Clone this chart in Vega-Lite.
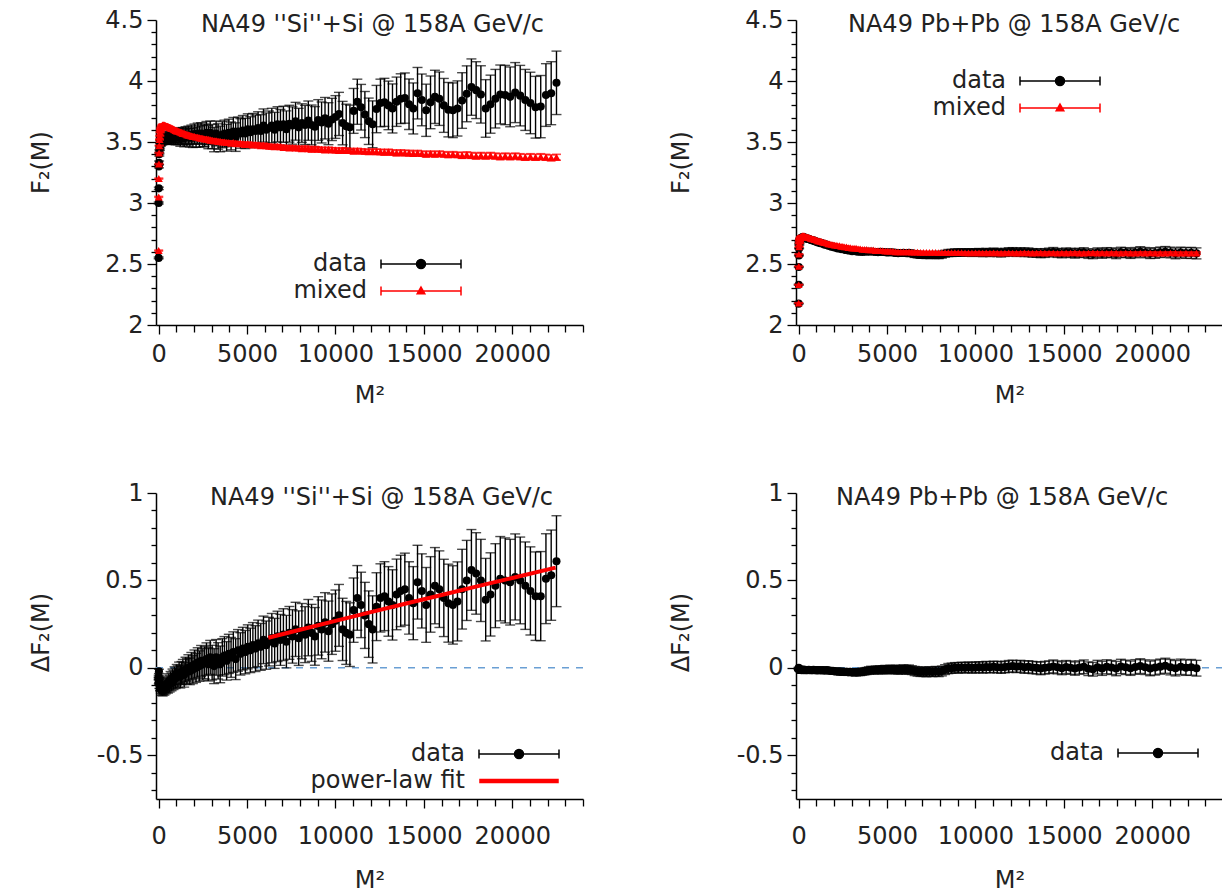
{
"$schema": "https://vega.github.io/schema/vega-lite/v6.json",
"padding": {"left": 28, "top": 8, "right": 0, "bottom": 0},
"config": {
  "view": {"stroke": null},
  "font": "DejaVu Sans",
  "title": {"font": "DejaVu Sans", "fontSize": 24, "fontWeight": "normal", "color": "#222"},
  "axis": {"labelFont": "DejaVu Sans", "labelFontSize": 24, "labelColor": "#222", "titleFont": "DejaVu Sans", "titleFontSize": 24, "titleFontWeight": "normal", "titleColor": "#222", "domainColor": "black", "domainWidth": 1.5, "tickColor": "black", "tickWidth": 1.3, "grid": false, "labelFlush": false, "labelOverlap": false, "labelBound": false},
  "legend": {"title": null, "orient": "none", "direction": "vertical", "padding": 0, "rowPadding": 3, "symbolSize": 400, "symbolStrokeWidth": 1.5, "labelFont": "DejaVu Sans", "labelFontSize": 24, "labelColor": "#222", "labelAlign": "right", "labelOffset": -66, "labelLimit": 400}
},
"datasets": {
"si": [
{"M2":1,"d":2.55,"m":2.61,"dd":-0.06,"e":0.007,"me":0.004},
{"M2":4,"d":3.0,"m":3.05,"dd":-0.05,"e":0.008,"me":0.004},
{"M2":9,"d":3.12,"m":3.2,"dd":-0.08,"e":0.01,"me":0.004},
{"M2":16,"d":3.3,"m":3.32,"dd":-0.02,"e":0.012,"me":0.004},
{"M2":25,"d":3.33,"m":3.41,"dd":-0.08,"e":0.014,"me":0.004},
{"M2":36,"d":3.4,"m":3.47,"dd":-0.07,"e":0.015,"me":0.004},
{"M2":49,"d":3.42,"m":3.52,"dd":-0.1,"e":0.017,"me":0.004},
{"M2":64,"d":3.45,"m":3.55,"dd":-0.1,"e":0.019,"me":0.004},
{"M2":81,"d":3.47,"m":3.58,"dd":-0.11,"e":0.02,"me":0.004},
{"M2":100,"d":3.49,"m":3.6,"dd":-0.11,"e":0.022,"me":0.004},
{"M2":121,"d":3.49,"m":3.61,"dd":-0.12,"e":0.024,"me":0.006},
{"M2":144,"d":3.51,"m":3.62,"dd":-0.11,"e":0.025,"me":0.006},
{"M2":169,"d":3.5,"m":3.63,"dd":-0.13,"e":0.027,"me":0.006},
{"M2":196,"d":3.515,"m":3.635,"dd":-0.12,"e":0.029,"me":0.006},
{"M2":225,"d":3.51,"m":3.64,"dd":-0.13,"e":0.031,"me":0.006},
{"M2":256,"d":3.52,"m":3.64,"dd":-0.12,"e":0.032,"me":0.006},
{"M2":289,"d":3.53,"m":3.64,"dd":-0.11,"e":0.034,"me":0.006},
{"M2":324,"d":3.52,"m":3.64,"dd":-0.12,"e":0.036,"me":0.006},
{"M2":361,"d":3.535,"m":3.635,"dd":-0.1,"e":0.037,"me":0.006},
{"M2":400,"d":3.525,"m":3.635,"dd":-0.11,"e":0.039,"me":0.006},
{"M2":441,"d":3.53,"m":3.63,"dd":-0.1,"e":0.041,"me":0.006},
{"M2":484,"d":3.54,"m":3.63,"dd":-0.09,"e":0.042,"me":0.006},
{"M2":529,"d":3.525,"m":3.625,"dd":-0.1,"e":0.044,"me":0.006},
{"M2":576,"d":3.54,"m":3.62,"dd":-0.08,"e":0.046,"me":0.006},
{"M2":625,"d":3.53,"m":3.62,"dd":-0.09,"e":0.048,"me":0.006},
{"M2":676,"d":3.545,"m":3.615,"dd":-0.07,"e":0.049,"me":0.006},
{"M2":729,"d":3.53,"m":3.61,"dd":-0.08,"e":0.051,"me":0.006},
{"M2":784,"d":3.55,"m":3.61,"dd":-0.06,"e":0.053,"me":0.006},
{"M2":841,"d":3.535,"m":3.605,"dd":-0.07,"e":0.054,"me":0.006},
{"M2":900,"d":3.55,"m":3.6,"dd":-0.05,"e":0.056,"me":0.006},
{"M2":961,"d":3.535,"m":3.595,"dd":-0.06,"e":0.058,"me":0.009},
{"M2":1024,"d":3.55,"m":3.59,"dd":-0.04,"e":0.059,"me":0.009},
{"M2":1089,"d":3.54,"m":3.59,"dd":-0.05,"e":0.061,"me":0.009},
{"M2":1156,"d":3.555,"m":3.585,"dd":-0.03,"e":0.063,"me":0.009},
{"M2":1225,"d":3.53,"m":3.58,"dd":-0.05,"e":0.065,"me":0.009},
{"M2":1296,"d":3.545,"m":3.575,"dd":-0.03,"e":0.066,"me":0.009},
{"M2":1369,"d":3.55,"m":3.57,"dd":-0.02,"e":0.068,"me":0.009},
{"M2":1444,"d":3.53,"m":3.57,"dd":-0.04,"e":0.07,"me":0.009},
{"M2":1521,"d":3.555,"m":3.565,"dd":-0.01,"e":0.071,"me":0.009},
{"M2":1600,"d":3.54,"m":3.56,"dd":-0.02,"e":0.073,"me":0.009},
{"M2":1681,"d":3.555,"m":3.555,"dd":0.0,"e":0.075,"me":0.009},
{"M2":1764,"d":3.535,"m":3.555,"dd":-0.02,"e":0.076,"me":0.009},
{"M2":1849,"d":3.56,"m":3.55,"dd":0.01,"e":0.078,"me":0.009},
{"M2":1936,"d":3.535,"m":3.545,"dd":-0.01,"e":0.08,"me":0.009},
{"M2":2025,"d":3.565,"m":3.545,"dd":0.02,"e":0.082,"me":0.009},
{"M2":2116,"d":3.54,"m":3.54,"dd":0.0,"e":0.083,"me":0.009},
{"M2":2209,"d":3.57,"m":3.54,"dd":0.03,"e":0.085,"me":0.009},
{"M2":2304,"d":3.545,"m":3.535,"dd":0.01,"e":0.087,"me":0.009},
{"M2":2401,"d":3.57,"m":3.53,"dd":0.04,"e":0.088,"me":0.009},
{"M2":2500,"d":3.55,"m":3.53,"dd":0.02,"e":0.09,"me":0.009},
{"M2":2601,"d":3.555,"m":3.525,"dd":0.03,"e":0.092,"me":0.012},
{"M2":2704,"d":3.575,"m":3.525,"dd":0.05,"e":0.093,"me":0.012},
{"M2":2809,"d":3.54,"m":3.52,"dd":0.02,"e":0.095,"me":0.012},
{"M2":2916,"d":3.575,"m":3.515,"dd":0.06,"e":0.097,"me":0.012},
{"M2":3025,"d":3.545,"m":3.515,"dd":0.03,"e":0.099,"me":0.012},
{"M2":3136,"d":3.52,"m":3.51,"dd":0.01,"e":0.1,"me":0.012},
{"M2":3249,"d":3.57,"m":3.51,"dd":0.06,"e":0.102,"me":0.012},
{"M2":3364,"d":3.545,"m":3.505,"dd":0.04,"e":0.104,"me":0.012},
{"M2":3481,"d":3.525,"m":3.505,"dd":0.02,"e":0.105,"me":0.012},
{"M2":3600,"d":3.56,"m":3.5,"dd":0.06,"e":0.107,"me":0.012},
{"M2":3721,"d":3.57,"m":3.5,"dd":0.07,"e":0.109,"me":0.012},
{"M2":3844,"d":3.535,"m":3.495,"dd":0.04,"e":0.11,"me":0.012},
{"M2":3969,"d":3.575,"m":3.495,"dd":0.08,"e":0.112,"me":0.012},
{"M2":4096,"d":3.55,"m":3.49,"dd":0.06,"e":0.114,"me":0.012},
{"M2":4225,"d":3.585,"m":3.495,"dd":0.09,"e":0.116,"me":0.012},
{"M2":4356,"d":3.54,"m":3.49,"dd":0.05,"e":0.117,"me":0.012},
{"M2":4489,"d":3.585,"m":3.485,"dd":0.1,"e":0.119,"me":0.012},
{"M2":4624,"d":3.57,"m":3.49,"dd":0.08,"e":0.121,"me":0.012},
{"M2":4761,"d":3.595,"m":3.485,"dd":0.11,"e":0.122,"me":0.012},
{"M2":4900,"d":3.57,"m":3.48,"dd":0.09,"e":0.124,"me":0.012},
{"M2":5041,"d":3.605,"m":3.485,"dd":0.12,"e":0.126,"me":0.015},
{"M2":5184,"d":3.58,"m":3.48,"dd":0.1,"e":0.127,"me":0.015},
{"M2":5329,"d":3.605,"m":3.475,"dd":0.13,"e":0.129,"me":0.015},
{"M2":5476,"d":3.59,"m":3.48,"dd":0.11,"e":0.131,"me":0.015},
{"M2":5625,"d":3.615,"m":3.475,"dd":0.14,"e":0.133,"me":0.015},
{"M2":5776,"d":3.59,"m":3.47,"dd":0.12,"e":0.134,"me":0.015},
{"M2":5929,"d":3.635,"m":3.475,"dd":0.16,"e":0.136,"me":0.015},
{"M2":6084,"d":3.6,"m":3.47,"dd":0.13,"e":0.138,"me":0.015},
{"M2":6241,"d":3.615,"m":3.465,"dd":0.15,"e":0.139,"me":0.015},
{"M2":6400,"d":3.635,"m":3.465,"dd":0.17,"e":0.141,"me":0.015},
{"M2":6561,"d":3.6,"m":3.46,"dd":0.14,"e":0.143,"me":0.015},
{"M2":6724,"d":3.645,"m":3.465,"dd":0.18,"e":0.144,"me":0.015},
{"M2":6889,"d":3.62,"m":3.46,"dd":0.16,"e":0.146,"me":0.015},
{"M2":7056,"d":3.645,"m":3.455,"dd":0.19,"e":0.148,"me":0.015},
{"M2":7225,"d":3.605,"m":3.455,"dd":0.15,"e":0.15,"me":0.015},
{"M2":7396,"d":3.65,"m":3.45,"dd":0.2,"e":0.151,"me":0.015},
{"M2":7569,"d":3.635,"m":3.455,"dd":0.18,"e":0.153,"me":0.015},
{"M2":7744,"d":3.67,"m":3.45,"dd":0.22,"e":0.155,"me":0.015},
{"M2":7921,"d":3.62,"m":3.45,"dd":0.17,"e":0.156,"me":0.015},
{"M2":8100,"d":3.655,"m":3.445,"dd":0.21,"e":0.158,"me":0.015},
{"M2":8281,"d":3.64,"m":3.45,"dd":0.19,"e":0.16,"me":0.018},
{"M2":8464,"d":3.675,"m":3.445,"dd":0.23,"e":0.161,"me":0.018},
{"M2":8649,"d":3.64,"m":3.44,"dd":0.2,"e":0.163,"me":0.018},
{"M2":8836,"d":3.625,"m":3.445,"dd":0.18,"e":0.165,"me":0.018},
{"M2":9025,"d":3.68,"m":3.44,"dd":0.24,"e":0.167,"me":0.018},
{"M2":9216,"d":3.66,"m":3.44,"dd":0.22,"e":0.168,"me":0.018},
{"M2":9409,"d":3.695,"m":3.435,"dd":0.26,"e":0.17,"me":0.018},
{"M2":9604,"d":3.65,"m":3.44,"dd":0.21,"e":0.172,"me":0.018},
{"M2":9801,"d":3.685,"m":3.435,"dd":0.25,"e":0.173,"me":0.018},
{"M2":10000,"d":3.705,"m":3.435,"dd":0.27,"e":0.175,"me":0.018},
{"M2":10201,"d":3.73,"m":3.43,"dd":0.3,"e":0.177,"me":0.018},
{"M2":10404,"d":3.655,"m":3.435,"dd":0.22,"e":0.178,"me":0.018},
{"M2":10609,"d":3.63,"m":3.43,"dd":0.2,"e":0.18,"me":0.018},
{"M2":10816,"d":3.62,"m":3.43,"dd":0.19,"e":0.182,"me":0.018},
{"M2":11025,"d":3.755,"m":3.425,"dd":0.33,"e":0.184,"me":0.018},
{"M2":11236,"d":3.83,"m":3.43,"dd":0.4,"e":0.185,"me":0.018},
{"M2":11449,"d":3.785,"m":3.425,"dd":0.36,"e":0.187,"me":0.018},
{"M2":11664,"d":3.725,"m":3.425,"dd":0.3,"e":0.189,"me":0.018},
{"M2":11881,"d":3.67,"m":3.42,"dd":0.25,"e":0.19,"me":0.018},
{"M2":12100,"d":3.645,"m":3.425,"dd":0.22,"e":0.192,"me":0.018},
{"M2":12321,"d":3.77,"m":3.42,"dd":0.35,"e":0.194,"me":0.021},
{"M2":12544,"d":3.82,"m":3.42,"dd":0.4,"e":0.195,"me":0.021},
{"M2":12769,"d":3.825,"m":3.415,"dd":0.41,"e":0.197,"me":0.021},
{"M2":12996,"d":3.8,"m":3.42,"dd":0.38,"e":0.199,"me":0.021},
{"M2":13225,"d":3.775,"m":3.415,"dd":0.36,"e":0.201,"me":0.021},
{"M2":13456,"d":3.83,"m":3.41,"dd":0.42,"e":0.202,"me":0.021},
{"M2":13689,"d":3.855,"m":3.415,"dd":0.44,"e":0.204,"me":0.021},
{"M2":13924,"d":3.86,"m":3.41,"dd":0.45,"e":0.206,"me":0.021},
{"M2":14161,"d":3.81,"m":3.41,"dd":0.4,"e":0.207,"me":0.021},
{"M2":14400,"d":3.775,"m":3.405,"dd":0.37,"e":0.209,"me":0.021},
{"M2":14641,"d":3.9,"m":3.41,"dd":0.49,"e":0.211,"me":0.021},
{"M2":14884,"d":3.845,"m":3.405,"dd":0.44,"e":0.212,"me":0.021},
{"M2":15129,"d":3.76,"m":3.4,"dd":0.36,"e":0.214,"me":0.021},
{"M2":15376,"d":3.825,"m":3.405,"dd":0.42,"e":0.216,"me":0.021},
{"M2":15625,"d":3.87,"m":3.4,"dd":0.47,"e":0.218,"me":0.021},
{"M2":15876,"d":3.855,"m":3.405,"dd":0.45,"e":0.219,"me":0.021},
{"M2":16129,"d":3.8,"m":3.4,"dd":0.4,"e":0.221,"me":0.021},
{"M2":16384,"d":3.765,"m":3.395,"dd":0.37,"e":0.223,"me":0.021},
{"M2":16641,"d":3.76,"m":3.4,"dd":0.36,"e":0.224,"me":0.021},
{"M2":16900,"d":3.775,"m":3.395,"dd":0.38,"e":0.226,"me":0.021},
{"M2":17161,"d":3.84,"m":3.39,"dd":0.45,"e":0.228,"me":0.024},
{"M2":17424,"d":3.895,"m":3.395,"dd":0.5,"e":0.229,"me":0.024},
{"M2":17689,"d":3.95,"m":3.39,"dd":0.56,"e":0.231,"me":0.024},
{"M2":17956,"d":3.925,"m":3.385,"dd":0.54,"e":0.233,"me":0.024},
{"M2":18225,"d":3.89,"m":3.39,"dd":0.5,"e":0.235,"me":0.024},
{"M2":18496,"d":3.775,"m":3.385,"dd":0.39,"e":0.236,"me":0.024},
{"M2":18769,"d":3.81,"m":3.39,"dd":0.42,"e":0.238,"me":0.024},
{"M2":19044,"d":3.855,"m":3.385,"dd":0.47,"e":0.24,"me":0.024},
{"M2":19321,"d":3.89,"m":3.38,"dd":0.51,"e":0.241,"me":0.024},
{"M2":19600,"d":3.885,"m":3.385,"dd":0.5,"e":0.243,"me":0.024},
{"M2":19881,"d":3.87,"m":3.38,"dd":0.49,"e":0.245,"me":0.024},
{"M2":20164,"d":3.905,"m":3.385,"dd":0.52,"e":0.246,"me":0.024},
{"M2":20449,"d":3.88,"m":3.38,"dd":0.5,"e":0.248,"me":0.024},
{"M2":20736,"d":3.845,"m":3.375,"dd":0.47,"e":0.25,"me":0.024},
{"M2":21025,"d":3.82,"m":3.38,"dd":0.44,"e":0.252,"me":0.024},
{"M2":21316,"d":3.785,"m":3.375,"dd":0.41,"e":0.253,"me":0.024},
{"M2":21609,"d":3.79,"m":3.38,"dd":0.41,"e":0.255,"me":0.024},
{"M2":21904,"d":3.885,"m":3.375,"dd":0.51,"e":0.257,"me":0.024},
{"M2":22201,"d":3.9,"m":3.37,"dd":0.53,"e":0.258,"me":0.024},
{"M2":22500,"d":3.985,"m":3.375,"dd":0.61,"e":0.26,"me":0.024}
],
"pb": [
{"M2":1,"d":2.175,"m":2.18,"dd":-0.005,"e":0.003,"me":0.003},
{"M2":4,"d":2.33,"m":2.33,"dd":0.0,"e":0.004,"me":0.003},
{"M2":9,"d":2.475,"m":2.48,"dd":-0.005,"e":0.004,"me":0.003},
{"M2":16,"d":2.57,"m":2.58,"dd":-0.01,"e":0.004,"me":0.003},
{"M2":25,"d":2.628,"m":2.64,"dd":-0.012,"e":0.004,"me":0.003},
{"M2":36,"d":2.66,"m":2.67,"dd":-0.01,"e":0.005,"me":0.003},
{"M2":49,"d":2.678,"m":2.69,"dd":-0.012,"e":0.005,"me":0.003},
{"M2":64,"d":2.69,"m":2.7,"dd":-0.01,"e":0.005,"me":0.003},
{"M2":81,"d":2.698,"m":2.71,"dd":-0.012,"e":0.006,"me":0.003},
{"M2":100,"d":2.704,"m":2.715,"dd":-0.011,"e":0.006,"me":0.003},
{"M2":121,"d":2.708,"m":2.72,"dd":-0.012,"e":0.006,"me":0.003},
{"M2":144,"d":2.715,"m":2.725,"dd":-0.01,"e":0.006,"me":0.003},
{"M2":169,"d":2.712,"m":2.725,"dd":-0.013,"e":0.007,"me":0.003},
{"M2":196,"d":2.719,"m":2.73,"dd":-0.011,"e":0.007,"me":0.003},
{"M2":225,"d":2.718,"m":2.73,"dd":-0.012,"e":0.007,"me":0.003},
{"M2":256,"d":2.72,"m":2.73,"dd":-0.01,"e":0.007,"me":0.003},
{"M2":289,"d":2.717,"m":2.73,"dd":-0.013,"e":0.008,"me":0.003},
{"M2":324,"d":2.718,"m":2.73,"dd":-0.012,"e":0.008,"me":0.003},
{"M2":361,"d":2.714,"m":2.725,"dd":-0.011,"e":0.008,"me":0.003},
{"M2":400,"d":2.712,"m":2.725,"dd":-0.013,"e":0.009,"me":0.003},
{"M2":441,"d":2.708,"m":2.72,"dd":-0.012,"e":0.009,"me":0.003},
{"M2":484,"d":2.706,"m":2.72,"dd":-0.014,"e":0.009,"me":0.003},
{"M2":529,"d":2.708,"m":2.72,"dd":-0.012,"e":0.009,"me":0.003},
{"M2":576,"d":2.704,"m":2.715,"dd":-0.011,"e":0.01,"me":0.003},
{"M2":625,"d":2.702,"m":2.715,"dd":-0.013,"e":0.01,"me":0.003},
{"M2":676,"d":2.698,"m":2.71,"dd":-0.012,"e":0.01,"me":0.003},
{"M2":729,"d":2.696,"m":2.71,"dd":-0.014,"e":0.011,"me":0.003},
{"M2":784,"d":2.692,"m":2.705,"dd":-0.013,"e":0.011,"me":0.003},
{"M2":841,"d":2.694,"m":2.705,"dd":-0.011,"e":0.011,"me":0.003},
{"M2":900,"d":2.686,"m":2.7,"dd":-0.014,"e":0.011,"me":0.003},
{"M2":961,"d":2.688,"m":2.7,"dd":-0.012,"e":0.012,"me":0.003},
{"M2":1024,"d":2.68,"m":2.695,"dd":-0.015,"e":0.012,"me":0.003},
{"M2":1089,"d":2.677,"m":2.69,"dd":-0.013,"e":0.012,"me":0.003},
{"M2":1156,"d":2.678,"m":2.69,"dd":-0.012,"e":0.013,"me":0.003},
{"M2":1225,"d":2.67,"m":2.685,"dd":-0.015,"e":0.013,"me":0.003},
{"M2":1296,"d":2.671,"m":2.685,"dd":-0.014,"e":0.013,"me":0.003},
{"M2":1369,"d":2.668,"m":2.68,"dd":-0.012,"e":0.013,"me":0.003},
{"M2":1444,"d":2.659,"m":2.675,"dd":-0.016,"e":0.014,"me":0.003},
{"M2":1521,"d":2.661,"m":2.675,"dd":-0.014,"e":0.014,"me":0.003},
{"M2":1600,"d":2.657,"m":2.67,"dd":-0.013,"e":0.014,"me":0.003},
{"M2":1681,"d":2.649,"m":2.665,"dd":-0.016,"e":0.014,"me":0.003},
{"M2":1764,"d":2.65,"m":2.665,"dd":-0.015,"e":0.015,"me":0.003},
{"M2":1849,"d":2.642,"m":2.66,"dd":-0.018,"e":0.015,"me":0.003},
{"M2":1936,"d":2.643,"m":2.66,"dd":-0.017,"e":0.015,"me":0.003},
{"M2":2025,"d":2.635,"m":2.655,"dd":-0.02,"e":0.016,"me":0.003},
{"M2":2116,"d":2.636,"m":2.655,"dd":-0.019,"e":0.016,"me":0.003},
{"M2":2209,"d":2.628,"m":2.65,"dd":-0.022,"e":0.016,"me":0.003},
{"M2":2304,"d":2.63,"m":2.65,"dd":-0.02,"e":0.016,"me":0.003},
{"M2":2401,"d":2.622,"m":2.645,"dd":-0.023,"e":0.017,"me":0.003},
{"M2":2500,"d":2.624,"m":2.645,"dd":-0.021,"e":0.017,"me":0.003},
{"M2":2601,"d":2.616,"m":2.64,"dd":-0.024,"e":0.017,"me":0.006},
{"M2":2704,"d":2.618,"m":2.64,"dd":-0.022,"e":0.018,"me":0.006},
{"M2":2809,"d":2.61,"m":2.635,"dd":-0.025,"e":0.018,"me":0.006},
{"M2":2916,"d":2.612,"m":2.635,"dd":-0.023,"e":0.018,"me":0.006},
{"M2":3025,"d":2.604,"m":2.63,"dd":-0.026,"e":0.018,"me":0.006},
{"M2":3136,"d":2.606,"m":2.63,"dd":-0.024,"e":0.019,"me":0.006},
{"M2":3249,"d":2.603,"m":2.63,"dd":-0.027,"e":0.019,"me":0.006},
{"M2":3364,"d":2.6,"m":2.625,"dd":-0.025,"e":0.019,"me":0.006},
{"M2":3481,"d":2.601,"m":2.625,"dd":-0.024,"e":0.02,"me":0.006},
{"M2":3600,"d":2.598,"m":2.62,"dd":-0.022,"e":0.02,"me":0.006},
{"M2":3721,"d":2.6,"m":2.62,"dd":-0.02,"e":0.02,"me":0.006},
{"M2":3844,"d":2.602,"m":2.62,"dd":-0.018,"e":0.02,"me":0.006},
{"M2":3969,"d":2.6,"m":2.615,"dd":-0.015,"e":0.021,"me":0.006},
{"M2":4096,"d":2.603,"m":2.615,"dd":-0.012,"e":0.021,"me":0.006},
{"M2":4225,"d":2.601,"m":2.615,"dd":-0.014,"e":0.021,"me":0.006},
{"M2":4356,"d":2.599,"m":2.61,"dd":-0.011,"e":0.021,"me":0.006},
{"M2":4489,"d":2.597,"m":2.61,"dd":-0.013,"e":0.022,"me":0.006},
{"M2":4624,"d":2.6,"m":2.61,"dd":-0.01,"e":0.022,"me":0.006},
{"M2":4761,"d":2.598,"m":2.61,"dd":-0.012,"e":0.022,"me":0.006},
{"M2":4900,"d":2.596,"m":2.605,"dd":-0.009,"e":0.023,"me":0.006},
{"M2":5041,"d":2.594,"m":2.605,"dd":-0.011,"e":0.023,"me":0.006},
{"M2":5184,"d":2.597,"m":2.605,"dd":-0.008,"e":0.023,"me":0.006},
{"M2":5329,"d":2.595,"m":2.605,"dd":-0.01,"e":0.023,"me":0.006},
{"M2":5476,"d":2.591,"m":2.6,"dd":-0.009,"e":0.024,"me":0.006},
{"M2":5625,"d":2.588,"m":2.6,"dd":-0.012,"e":0.024,"me":0.006},
{"M2":5776,"d":2.59,"m":2.6,"dd":-0.01,"e":0.024,"me":0.006},
{"M2":5929,"d":2.592,"m":2.6,"dd":-0.008,"e":0.025,"me":0.006},
{"M2":6084,"d":2.589,"m":2.6,"dd":-0.011,"e":0.025,"me":0.006},
{"M2":6241,"d":2.591,"m":2.6,"dd":-0.009,"e":0.025,"me":0.006},
{"M2":6400,"d":2.585,"m":2.598,"dd":-0.013,"e":0.025,"me":0.006},
{"M2":6561,"d":2.58,"m":2.598,"dd":-0.018,"e":0.026,"me":0.006},
{"M2":6724,"d":2.577,"m":2.598,"dd":-0.021,"e":0.026,"me":0.006},
{"M2":6889,"d":2.573,"m":2.596,"dd":-0.023,"e":0.026,"me":0.006},
{"M2":7056,"d":2.574,"m":2.596,"dd":-0.022,"e":0.027,"me":0.006},
{"M2":7225,"d":2.572,"m":2.596,"dd":-0.024,"e":0.027,"me":0.006},
{"M2":7396,"d":2.574,"m":2.595,"dd":-0.021,"e":0.027,"me":0.006},
{"M2":7569,"d":2.572,"m":2.595,"dd":-0.023,"e":0.027,"me":0.006},
{"M2":7744,"d":2.575,"m":2.595,"dd":-0.02,"e":0.028,"me":0.006},
{"M2":7921,"d":2.572,"m":2.594,"dd":-0.022,"e":0.028,"me":0.006},
{"M2":8100,"d":2.576,"m":2.594,"dd":-0.018,"e":0.028,"me":0.006},
{"M2":8281,"d":2.584,"m":2.594,"dd":-0.01,"e":0.028,"me":0.006},
{"M2":8464,"d":2.59,"m":2.594,"dd":-0.004,"e":0.029,"me":0.006},
{"M2":8649,"d":2.591,"m":2.593,"dd":-0.002,"e":0.029,"me":0.006},
{"M2":8836,"d":2.594,"m":2.593,"dd":0.001,"e":0.029,"me":0.006},
{"M2":9025,"d":2.593,"m":2.593,"dd":0.0,"e":0.03,"me":0.006},
{"M2":9216,"d":2.595,"m":2.593,"dd":0.002,"e":0.03,"me":0.006},
{"M2":9409,"d":2.593,"m":2.592,"dd":0.001,"e":0.03,"me":0.006},
{"M2":9604,"d":2.595,"m":2.592,"dd":0.003,"e":0.03,"me":0.006},
{"M2":9801,"d":2.593,"m":2.592,"dd":0.001,"e":0.031,"me":0.006},
{"M2":10000,"d":2.594,"m":2.592,"dd":0.002,"e":0.031,"me":0.006},
{"M2":10201,"d":2.596,"m":2.592,"dd":0.004,"e":0.031,"me":0.009},
{"M2":10404,"d":2.592,"m":2.59,"dd":0.002,"e":0.032,"me":0.009},
{"M2":10609,"d":2.596,"m":2.591,"dd":0.005,"e":0.032,"me":0.009},
{"M2":10816,"d":2.593,"m":2.59,"dd":0.003,"e":0.032,"me":0.009},
{"M2":11025,"d":2.598,"m":2.592,"dd":0.006,"e":0.032,"me":0.009},
{"M2":11236,"d":2.594,"m":2.59,"dd":0.004,"e":0.033,"me":0.009},
{"M2":11449,"d":2.591,"m":2.589,"dd":0.002,"e":0.033,"me":0.009},
{"M2":11664,"d":2.595,"m":2.59,"dd":0.005,"e":0.033,"me":0.009},
{"M2":11881,"d":2.599,"m":2.591,"dd":0.008,"e":0.034,"me":0.009},
{"M2":12100,"d":2.6,"m":2.59,"dd":0.01,"e":0.034,"me":0.009},
{"M2":12321,"d":2.596,"m":2.589,"dd":0.007,"e":0.034,"me":0.009},
{"M2":12544,"d":2.599,"m":2.59,"dd":0.009,"e":0.034,"me":0.009},
{"M2":12769,"d":2.596,"m":2.592,"dd":0.004,"e":0.035,"me":0.009},
{"M2":12996,"d":2.596,"m":2.59,"dd":0.006,"e":0.035,"me":0.009},
{"M2":13225,"d":2.591,"m":2.589,"dd":0.002,"e":0.035,"me":0.009},
{"M2":13456,"d":2.59,"m":2.59,"dd":0.0,"e":0.035,"me":0.009},
{"M2":13689,"d":2.588,"m":2.591,"dd":-0.003,"e":0.036,"me":0.009},
{"M2":13924,"d":2.59,"m":2.589,"dd":0.001,"e":0.036,"me":0.009},
{"M2":14161,"d":2.594,"m":2.59,"dd":0.004,"e":0.036,"me":0.009},
{"M2":14400,"d":2.598,"m":2.59,"dd":0.008,"e":0.037,"me":0.009},
{"M2":14641,"d":2.591,"m":2.588,"dd":0.003,"e":0.037,"me":0.009},
{"M2":14884,"d":2.588,"m":2.59,"dd":-0.002,"e":0.037,"me":0.009},
{"M2":15129,"d":2.594,"m":2.589,"dd":0.005,"e":0.037,"me":0.009},
{"M2":15376,"d":2.591,"m":2.59,"dd":0.001,"e":0.038,"me":0.009},
{"M2":15625,"d":2.587,"m":2.591,"dd":-0.004,"e":0.038,"me":0.009},
{"M2":15876,"d":2.591,"m":2.589,"dd":0.002,"e":0.038,"me":0.009},
{"M2":16129,"d":2.594,"m":2.588,"dd":0.006,"e":0.039,"me":0.009},
{"M2":16384,"d":2.585,"m":2.59,"dd":-0.005,"e":0.039,"me":0.009},
{"M2":16641,"d":2.583,"m":2.591,"dd":-0.008,"e":0.039,"me":0.009},
{"M2":16900,"d":2.593,"m":2.589,"dd":0.004,"e":0.039,"me":0.009},
{"M2":17161,"d":2.587,"m":2.59,"dd":-0.003,"e":0.04,"me":0.009},
{"M2":17424,"d":2.594,"m":2.588,"dd":0.006,"e":0.04,"me":0.009},
{"M2":17689,"d":2.592,"m":2.59,"dd":0.002,"e":0.04,"me":0.009},
{"M2":17956,"d":2.585,"m":2.589,"dd":-0.004,"e":0.041,"me":0.009},
{"M2":18225,"d":2.596,"m":2.588,"dd":0.008,"e":0.041,"me":0.009},
{"M2":18496,"d":2.593,"m":2.59,"dd":0.003,"e":0.041,"me":0.009},
{"M2":18769,"d":2.587,"m":2.589,"dd":-0.002,"e":0.041,"me":0.009},
{"M2":19044,"d":2.593,"m":2.588,"dd":0.005,"e":0.042,"me":0.009},
{"M2":19321,"d":2.6,"m":2.59,"dd":0.01,"e":0.042,"me":0.009},
{"M2":19600,"d":2.593,"m":2.589,"dd":0.004,"e":0.042,"me":0.009},
{"M2":19881,"d":2.587,"m":2.59,"dd":-0.003,"e":0.042,"me":0.009},
{"M2":20164,"d":2.59,"m":2.588,"dd":0.002,"e":0.043,"me":0.009},
{"M2":20449,"d":2.596,"m":2.589,"dd":0.007,"e":0.043,"me":0.009},
{"M2":20736,"d":2.6,"m":2.588,"dd":0.012,"e":0.043,"me":0.009},
{"M2":21025,"d":2.594,"m":2.59,"dd":0.004,"e":0.044,"me":0.009},
{"M2":21316,"d":2.587,"m":2.589,"dd":-0.002,"e":0.044,"me":0.009},
{"M2":21609,"d":2.594,"m":2.588,"dd":0.006,"e":0.044,"me":0.009},
{"M2":21904,"d":2.59,"m":2.589,"dd":0.001,"e":0.044,"me":0.009},
{"M2":22201,"d":2.591,"m":2.588,"dd":0.003,"e":0.045,"me":0.009},
{"M2":22500,"d":2.587,"m":2.589,"dd":-0.002,"e":0.045,"me":0.009}
],
"fit": [
{"M2":6200,"fit":0.172},{"M2":8000,"fit":0.218},{"M2":10000,"fit":0.269},{"M2":12000,"fit":0.319},{"M2":14000,"fit":0.368},{"M2":16000,"fit":0.417},{"M2":18000,"fit":0.466},{"M2":20000,"fit":0.514},{"M2":22450,"fit":0.573}
]
},
"concat": [
{
 "width": 427, "height": 305,
 "title": {"text": "NA49 ''Si''+Si @ 158A GeV/c", "anchor": "start", "frame": "group", "offset": 0, "dy": 41, "dx": 45, "baseline": "middle"},
 "data": {"name": "si"},
 "layer": [
  {"mark": {"type": "errorbar", "color": "black", "thickness": 1.4, "ticks": {"size": 10, "thickness": 1.4, "color": "black"}},
   "encoding": {
    "x": {"field": "M2", "type": "quantitative", "scale": {"domain": [-150, 24000], "nice": false, "zero": false}, "axis": {"title": "M²", "values": [0,1000,2000,3000,4000,5000,6000,7000,8000,9000,10000,11000,12000,13000,14000,15000,16000,17000,18000,19000,20000,21000,22000,23000,24000], "format": "d", "labelExpr": "datum.value % 5000 === 0 && datum.value < 24000 ? datum.label : ''", "tickSize": {"condition": {"test": "datum.value % 5000 === 0", "value": 9}, "value": 7}, "labelPadding": 8, "titleY": 70, "titleBaseline": "middle"}},
    "y": {"field": "d", "type": "quantitative", "scale": {"domain": [2, 4.5], "nice": false, "zero": false}, "axis": {"title": "F₂(M)", "values": [2,2.1,2.2,2.3,2.4,2.5,2.6,2.7,2.8,2.9,3,3.1,3.2,3.3,3.4,3.5,3.6,3.7,3.8,3.9,4,4.1,4.2,4.3,4.4,4.5], "labelExpr": "abs(datum.value*2 - round(datum.value*2)) < 0.001 ? '' + datum.value : ''", "tickSize": {"condition": {"test": "abs(datum.value*2 - round(datum.value*2)) < 0.001", "value": 9}, "value": 5}, "labelPadding": 4, "titleX": -115, "titleY": 142, "titleAngle": -90, "titleAlign": "center", "titleBaseline": "middle"}},
    "yError": {"field": "e"}
   }},
  {"mark": {"type": "point", "filled": true, "shape": "circle", "size": 65, "color": "black", "opacity": 1},
   "encoding": {
    "x": {"field": "M2", "type": "quantitative", "scale": {"domain": [-150, 24000], "nice": false, "zero": false}, "axis": {"title": "M²", "values": [0,1000,2000,3000,4000,5000,6000,7000,8000,9000,10000,11000,12000,13000,14000,15000,16000,17000,18000,19000,20000,21000,22000,23000,24000], "format": "d", "labelExpr": "datum.value % 5000 === 0 && datum.value < 24000 ? datum.label : ''", "tickSize": {"condition": {"test": "datum.value % 5000 === 0", "value": 9}, "value": 7}, "labelPadding": 8, "titleY": 70, "titleBaseline": "middle"}},
    "y": {"field": "d", "type": "quantitative", "scale": {"domain": [2, 4.5], "nice": false, "zero": false}, "axis": {"title": "F₂(M)", "values": [2,2.1,2.2,2.3,2.4,2.5,2.6,2.7,2.8,2.9,3,3.1,3.2,3.3,3.4,3.5,3.6,3.7,3.8,3.9,4,4.1,4.2,4.3,4.4,4.5], "labelExpr": "abs(datum.value*2 - round(datum.value*2)) < 0.001 ? '' + datum.value : ''", "tickSize": {"condition": {"test": "abs(datum.value*2 - round(datum.value*2)) < 0.001", "value": 9}, "value": 5}, "labelPadding": 4, "titleX": -115, "titleY": 142, "titleAngle": -90, "titleAlign": "center", "titleBaseline": "middle"}}
   }},
  {"mark": {"type": "errorbar", "color": "red", "thickness": 1.6, "ticks": {"size": 9, "thickness": 1.6, "color": "red"}},
   "encoding": {
    "x": {"field": "M2", "type": "quantitative", "scale": {"domain": [-150, 24000], "nice": false, "zero": false}, "axis": {"title": "M²", "values": [0,1000,2000,3000,4000,5000,6000,7000,8000,9000,10000,11000,12000,13000,14000,15000,16000,17000,18000,19000,20000,21000,22000,23000,24000], "format": "d", "labelExpr": "datum.value % 5000 === 0 && datum.value < 24000 ? datum.label : ''", "tickSize": {"condition": {"test": "datum.value % 5000 === 0", "value": 9}, "value": 7}, "labelPadding": 8, "titleY": 70, "titleBaseline": "middle"}},
    "y": {"field": "m", "type": "quantitative", "scale": {"domain": [2, 4.5], "nice": false, "zero": false}, "axis": {"title": "F₂(M)", "values": [2,2.1,2.2,2.3,2.4,2.5,2.6,2.7,2.8,2.9,3,3.1,3.2,3.3,3.4,3.5,3.6,3.7,3.8,3.9,4,4.1,4.2,4.3,4.4,4.5], "labelExpr": "abs(datum.value*2 - round(datum.value*2)) < 0.001 ? '' + datum.value : ''", "tickSize": {"condition": {"test": "abs(datum.value*2 - round(datum.value*2)) < 0.001", "value": 9}, "value": 5}, "labelPadding": 4, "titleX": -115, "titleY": 142, "titleAngle": -90, "titleAlign": "center", "titleBaseline": "middle"}},
    "yError": {"field": "me"}
   }},
  {"mark": {"type": "point", "filled": true, "shape": "triangle-up", "size": 65, "color": "red", "opacity": 1},
   "encoding": {
    "x": {"field": "M2", "type": "quantitative", "scale": {"domain": [-150, 24000], "nice": false, "zero": false}, "axis": {"title": "M²", "values": [0,1000,2000,3000,4000,5000,6000,7000,8000,9000,10000,11000,12000,13000,14000,15000,16000,17000,18000,19000,20000,21000,22000,23000,24000], "format": "d", "labelExpr": "datum.value % 5000 === 0 && datum.value < 24000 ? datum.label : ''", "tickSize": {"condition": {"test": "datum.value % 5000 === 0", "value": 9}, "value": 7}, "labelPadding": 8, "titleY": 70, "titleBaseline": "middle"}},
    "y": {"field": "m", "type": "quantitative", "scale": {"domain": [2, 4.5], "nice": false, "zero": false}, "axis": {"title": "F₂(M)", "values": [2,2.1,2.2,2.3,2.4,2.5,2.6,2.7,2.8,2.9,3,3.1,3.2,3.3,3.4,3.5,3.6,3.7,3.8,3.9,4,4.1,4.2,4.3,4.4,4.5], "labelExpr": "abs(datum.value*2 - round(datum.value*2)) < 0.001 ? '' + datum.value : ''", "tickSize": {"condition": {"test": "abs(datum.value*2 - round(datum.value*2)) < 0.001", "value": 9}, "value": 5}, "labelPadding": 4, "titleX": -115, "titleY": 142, "titleAngle": -90, "titleAlign": "center", "titleBaseline": "middle"}}
   }},
  {"data": {"values": []},
   "mark": {"type": "point", "filled": true, "size": 400, "opacity": 1},
   "encoding": {
    "shape": {"datum": "data", "scale": {"domain": ["data", "mixed"], "range": ["M-4,0H4M-4,-0.45V0.45M4,-0.45V0.45M-0.45,0A0.45,0.45,0,1,1,0.45,0A0.45,0.45,0,1,1,-0.45,0Z", "M-4,0H4M-4,-0.45V0.45M4,-0.45V0.45M0,-0.4L0.38,0.27L-0.38,0.27Z"]}, "legend": {"legendX": 253, "legendY": 232}},
    "color": {"datum": "data", "scale": {"domain": ["data", "mixed"], "range": ["black", "red"]}, "legend": {"legendX": 253, "legendY": 232}},
    "stroke": {"datum": "data", "scale": {"domain": ["data", "mixed"], "range": ["black", "red"]}, "legend": {"legendX": 253, "legendY": 232}}
   }}
 ]
},
{
 "width": 427, "height": 305,
 "title": {"text": "NA49 Pb+Pb @ 158A GeV/c", "anchor": "start", "frame": "group", "offset": 0, "dy": 41, "dx": 52, "baseline": "middle"},
 "data": {"name": "pb"},
 "layer": [
  {"mark": {"type": "errorbar", "color": "black", "thickness": 1.4, "ticks": {"size": 10, "thickness": 1.4, "color": "black"}},
   "encoding": {
    "x": {"field": "M2", "type": "quantitative", "scale": {"domain": [-150, 24000], "nice": false, "zero": false}, "axis": {"title": "M²", "values": [0,1000,2000,3000,4000,5000,6000,7000,8000,9000,10000,11000,12000,13000,14000,15000,16000,17000,18000,19000,20000,21000,22000,23000,24000], "format": "d", "labelExpr": "datum.value % 5000 === 0 && datum.value < 24000 ? datum.label : ''", "tickSize": {"condition": {"test": "datum.value % 5000 === 0", "value": 9}, "value": 7}, "labelPadding": 8, "titleY": 70, "titleBaseline": "middle"}},
    "y": {"field": "d", "type": "quantitative", "scale": {"domain": [2, 4.5], "nice": false, "zero": false}, "axis": {"title": "F₂(M)", "values": [2,2.1,2.2,2.3,2.4,2.5,2.6,2.7,2.8,2.9,3,3.1,3.2,3.3,3.4,3.5,3.6,3.7,3.8,3.9,4,4.1,4.2,4.3,4.4,4.5], "labelExpr": "abs(datum.value*2 - round(datum.value*2)) < 0.001 ? '' + datum.value : ''", "tickSize": {"condition": {"test": "abs(datum.value*2 - round(datum.value*2)) < 0.001", "value": 9}, "value": 5}, "labelPadding": 4, "titleX": -115, "titleY": 142, "titleAngle": -90, "titleAlign": "center", "titleBaseline": "middle"}},
    "yError": {"field": "e"}
   }},
  {"mark": {"type": "point", "filled": true, "shape": "circle", "size": 65, "color": "black", "opacity": 1},
   "encoding": {
    "x": {"field": "M2", "type": "quantitative", "scale": {"domain": [-150, 24000], "nice": false, "zero": false}, "axis": {"title": "M²", "values": [0,1000,2000,3000,4000,5000,6000,7000,8000,9000,10000,11000,12000,13000,14000,15000,16000,17000,18000,19000,20000,21000,22000,23000,24000], "format": "d", "labelExpr": "datum.value % 5000 === 0 && datum.value < 24000 ? datum.label : ''", "tickSize": {"condition": {"test": "datum.value % 5000 === 0", "value": 9}, "value": 7}, "labelPadding": 8, "titleY": 70, "titleBaseline": "middle"}},
    "y": {"field": "d", "type": "quantitative", "scale": {"domain": [2, 4.5], "nice": false, "zero": false}, "axis": {"title": "F₂(M)", "values": [2,2.1,2.2,2.3,2.4,2.5,2.6,2.7,2.8,2.9,3,3.1,3.2,3.3,3.4,3.5,3.6,3.7,3.8,3.9,4,4.1,4.2,4.3,4.4,4.5], "labelExpr": "abs(datum.value*2 - round(datum.value*2)) < 0.001 ? '' + datum.value : ''", "tickSize": {"condition": {"test": "abs(datum.value*2 - round(datum.value*2)) < 0.001", "value": 9}, "value": 5}, "labelPadding": 4, "titleX": -115, "titleY": 142, "titleAngle": -90, "titleAlign": "center", "titleBaseline": "middle"}}
   }},
  {"mark": {"type": "errorbar", "color": "red", "thickness": 1.6, "ticks": {"size": 9, "thickness": 1.6, "color": "red"}},
   "encoding": {
    "x": {"field": "M2", "type": "quantitative", "scale": {"domain": [-150, 24000], "nice": false, "zero": false}, "axis": {"title": "M²", "values": [0,1000,2000,3000,4000,5000,6000,7000,8000,9000,10000,11000,12000,13000,14000,15000,16000,17000,18000,19000,20000,21000,22000,23000,24000], "format": "d", "labelExpr": "datum.value % 5000 === 0 && datum.value < 24000 ? datum.label : ''", "tickSize": {"condition": {"test": "datum.value % 5000 === 0", "value": 9}, "value": 7}, "labelPadding": 8, "titleY": 70, "titleBaseline": "middle"}},
    "y": {"field": "m", "type": "quantitative", "scale": {"domain": [2, 4.5], "nice": false, "zero": false}, "axis": {"title": "F₂(M)", "values": [2,2.1,2.2,2.3,2.4,2.5,2.6,2.7,2.8,2.9,3,3.1,3.2,3.3,3.4,3.5,3.6,3.7,3.8,3.9,4,4.1,4.2,4.3,4.4,4.5], "labelExpr": "abs(datum.value*2 - round(datum.value*2)) < 0.001 ? '' + datum.value : ''", "tickSize": {"condition": {"test": "abs(datum.value*2 - round(datum.value*2)) < 0.001", "value": 9}, "value": 5}, "labelPadding": 4, "titleX": -115, "titleY": 142, "titleAngle": -90, "titleAlign": "center", "titleBaseline": "middle"}},
    "yError": {"field": "me"}
   }},
  {"mark": {"type": "point", "filled": true, "shape": "triangle-up", "size": 60, "color": "red", "opacity": 1},
   "encoding": {
    "x": {"field": "M2", "type": "quantitative", "scale": {"domain": [-150, 24000], "nice": false, "zero": false}, "axis": {"title": "M²", "values": [0,1000,2000,3000,4000,5000,6000,7000,8000,9000,10000,11000,12000,13000,14000,15000,16000,17000,18000,19000,20000,21000,22000,23000,24000], "format": "d", "labelExpr": "datum.value % 5000 === 0 && datum.value < 24000 ? datum.label : ''", "tickSize": {"condition": {"test": "datum.value % 5000 === 0", "value": 9}, "value": 7}, "labelPadding": 8, "titleY": 70, "titleBaseline": "middle"}},
    "y": {"field": "m", "type": "quantitative", "scale": {"domain": [2, 4.5], "nice": false, "zero": false}, "axis": {"title": "F₂(M)", "values": [2,2.1,2.2,2.3,2.4,2.5,2.6,2.7,2.8,2.9,3,3.1,3.2,3.3,3.4,3.5,3.6,3.7,3.8,3.9,4,4.1,4.2,4.3,4.4,4.5], "labelExpr": "abs(datum.value*2 - round(datum.value*2)) < 0.001 ? '' + datum.value : ''", "tickSize": {"condition": {"test": "abs(datum.value*2 - round(datum.value*2)) < 0.001", "value": 9}, "value": 5}, "labelPadding": 4, "titleX": -115, "titleY": 142, "titleAngle": -90, "titleAlign": "center", "titleBaseline": "middle"}}
   }},
  {"data": {"values": []},
   "mark": {"type": "point", "filled": true, "size": 400, "opacity": 1},
   "encoding": {
    "shape": {"datum": "data", "scale": {"domain": ["data", "mixed"], "range": ["M-4,0H4M-4,-0.45V0.45M4,-0.45V0.45M-0.45,0A0.45,0.45,0,1,1,0.45,0A0.45,0.45,0,1,1,-0.45,0Z", "M-4,0H4M-4,-0.45V0.45M4,-0.45V0.45M0,-0.4L0.38,0.27L-0.38,0.27Z"]}, "legend": {"legendX": 252, "legendY": 49}},
    "color": {"datum": "data", "scale": {"domain": ["data", "mixed"], "range": ["black", "red"]}, "legend": {"legendX": 252, "legendY": 49}},
    "stroke": {"datum": "data", "scale": {"domain": ["data", "mixed"], "range": ["black", "red"]}, "legend": {"legendX": 252, "legendY": 49}}
   }}
 ]
},
{
 "width": 427, "height": 306,
 "title": {"text": "NA49 ''Si''+Si @ 158A GeV/c", "anchor": "start", "frame": "group", "offset": 0, "dy": 41, "dx": 54, "baseline": "middle"},
 "layer": [
  {"data": {"values": [{}]},
   "mark": {"type": "rule", "color": "#6a9fd4", "strokeDash": [7, 7], "strokeWidth": 1.5},
   "encoding": {"y": {"datum": 0, "type": "quantitative", "scale": {"domain": [-0.75, 1], "nice": false, "zero": false}, "axis": {"title": "ΔF₂(M)", "values": [-0.7,-0.6,-0.5,-0.4,-0.3,-0.2,-0.1,0,0.1,0.2,0.3,0.4,0.5,0.6,0.7,0.8,0.9,1], "labelExpr": "abs(datum.value*2 - round(datum.value*2)) < 0.001 ? '' + datum.value : ''", "tickSize": {"condition": {"test": "abs(datum.value*2 - round(datum.value*2)) < 0.001", "value": 9}, "value": 5}, "labelPadding": 4, "titleX": -115, "titleY": 139, "titleAngle": -90, "titleAlign": "center", "titleBaseline": "middle"}}}},
  {"data": {"name": "si"},
   "mark": {"type": "errorbar", "color": "black", "thickness": 1.4, "ticks": {"size": 10, "thickness": 1.4, "color": "black"}},
   "encoding": {
    "x": {"field": "M2", "type": "quantitative", "scale": {"domain": [-150, 24000], "nice": false, "zero": false}, "axis": {"title": "M²", "values": [0,1000,2000,3000,4000,5000,6000,7000,8000,9000,10000,11000,12000,13000,14000,15000,16000,17000,18000,19000,20000,21000,22000,23000,24000], "format": "d", "labelExpr": "datum.value % 5000 === 0 && datum.value < 24000 ? datum.label : ''", "tickSize": {"condition": {"test": "datum.value % 5000 === 0", "value": 9}, "value": 7}, "labelPadding": 16, "titleY": 81, "titleBaseline": "middle"}},
    "y": {"field": "dd", "type": "quantitative", "scale": {"domain": [-0.75, 1], "nice": false, "zero": false}, "axis": {"title": "ΔF₂(M)", "values": [-0.7,-0.6,-0.5,-0.4,-0.3,-0.2,-0.1,0,0.1,0.2,0.3,0.4,0.5,0.6,0.7,0.8,0.9,1], "labelExpr": "abs(datum.value*2 - round(datum.value*2)) < 0.001 ? '' + datum.value : ''", "tickSize": {"condition": {"test": "abs(datum.value*2 - round(datum.value*2)) < 0.001", "value": 9}, "value": 5}, "labelPadding": 4, "titleX": -115, "titleY": 139, "titleAngle": -90, "titleAlign": "center", "titleBaseline": "middle"}},
    "yError": {"field": "e"}
   }},
  {"data": {"name": "si"},
   "mark": {"type": "point", "filled": true, "shape": "circle", "size": 65, "color": "black", "opacity": 1},
   "encoding": {
    "x": {"field": "M2", "type": "quantitative", "scale": {"domain": [-150, 24000], "nice": false, "zero": false}, "axis": {"title": "M²", "values": [0,1000,2000,3000,4000,5000,6000,7000,8000,9000,10000,11000,12000,13000,14000,15000,16000,17000,18000,19000,20000,21000,22000,23000,24000], "format": "d", "labelExpr": "datum.value % 5000 === 0 && datum.value < 24000 ? datum.label : ''", "tickSize": {"condition": {"test": "datum.value % 5000 === 0", "value": 9}, "value": 7}, "labelPadding": 16, "titleY": 81, "titleBaseline": "middle"}},
    "y": {"field": "dd", "type": "quantitative", "scale": {"domain": [-0.75, 1], "nice": false, "zero": false}, "axis": {"title": "ΔF₂(M)", "values": [-0.7,-0.6,-0.5,-0.4,-0.3,-0.2,-0.1,0,0.1,0.2,0.3,0.4,0.5,0.6,0.7,0.8,0.9,1], "labelExpr": "abs(datum.value*2 - round(datum.value*2)) < 0.001 ? '' + datum.value : ''", "tickSize": {"condition": {"test": "abs(datum.value*2 - round(datum.value*2)) < 0.001", "value": 9}, "value": 5}, "labelPadding": 4, "titleX": -115, "titleY": 139, "titleAngle": -90, "titleAlign": "center", "titleBaseline": "middle"}}
   }},
  {"data": {"name": "fit"},
   "mark": {"type": "line", "color": "red", "strokeWidth": 4},
   "encoding": {
    "x": {"field": "M2", "type": "quantitative", "scale": {"domain": [-150, 24000], "nice": false, "zero": false}, "axis": {"title": "M²", "values": [0,1000,2000,3000,4000,5000,6000,7000,8000,9000,10000,11000,12000,13000,14000,15000,16000,17000,18000,19000,20000,21000,22000,23000,24000], "format": "d", "labelExpr": "datum.value % 5000 === 0 && datum.value < 24000 ? datum.label : ''", "tickSize": {"condition": {"test": "datum.value % 5000 === 0", "value": 9}, "value": 7}, "labelPadding": 16, "titleY": 81, "titleBaseline": "middle"}},
    "y": {"field": "fit", "type": "quantitative", "scale": {"domain": [-0.75, 1], "nice": false, "zero": false}, "axis": {"title": "ΔF₂(M)", "values": [-0.7,-0.6,-0.5,-0.4,-0.3,-0.2,-0.1,0,0.1,0.2,0.3,0.4,0.5,0.6,0.7,0.8,0.9,1], "labelExpr": "abs(datum.value*2 - round(datum.value*2)) < 0.001 ? '' + datum.value : ''", "tickSize": {"condition": {"test": "abs(datum.value*2 - round(datum.value*2)) < 0.001", "value": 9}, "value": 5}, "labelPadding": 4, "titleX": -115, "titleY": 139, "titleAngle": -90, "titleAlign": "center", "titleBaseline": "middle"}}
   }},
  {"data": {"values": []},
   "mark": {"type": "point", "filled": true, "size": 400, "opacity": 1},
   "encoding": {
    "shape": {"datum": "data", "scale": {"domain": ["data", "power-law fit"], "range": ["M-4,0H4M-4,-0.45V0.45M4,-0.45V0.45M-0.45,0A0.45,0.45,0,1,1,0.45,0A0.45,0.45,0,1,1,-0.45,0Z", "M-3.9,-0.15H3.9V0.15H-3.9Z"]}, "legend": {"legendX": 351, "legendY": 249}},
    "color": {"datum": "data", "scale": {"domain": ["data", "power-law fit"], "range": ["black", "red"]}, "legend": {"legendX": 351, "legendY": 249}},
    "stroke": {"datum": "data", "scale": {"domain": ["data", "power-law fit"], "range": ["black", "red"]}, "legend": {"legendX": 351, "legendY": 249}}
   }}
 ]
},
{
 "width": 427, "height": 306,
 "title": {"text": "NA49 Pb+Pb @ 158A GeV/c", "anchor": "start", "frame": "group", "offset": 0, "dy": 41, "dx": 40, "baseline": "middle"},
 "layer": [
  {"data": {"values": [{}]},
   "mark": {"type": "rule", "color": "#6a9fd4", "strokeDash": [7, 7], "strokeWidth": 1.5},
   "encoding": {"y": {"datum": 0, "type": "quantitative", "scale": {"domain": [-0.75, 1], "nice": false, "zero": false}, "axis": {"title": "ΔF₂(M)", "values": [-0.7,-0.6,-0.5,-0.4,-0.3,-0.2,-0.1,0,0.1,0.2,0.3,0.4,0.5,0.6,0.7,0.8,0.9,1], "labelExpr": "abs(datum.value*2 - round(datum.value*2)) < 0.001 ? '' + datum.value : ''", "tickSize": {"condition": {"test": "abs(datum.value*2 - round(datum.value*2)) < 0.001", "value": 9}, "value": 5}, "labelPadding": 4, "titleX": -115, "titleY": 139, "titleAngle": -90, "titleAlign": "center", "titleBaseline": "middle"}}}},
  {"data": {"name": "pb"},
   "mark": {"type": "errorbar", "color": "black", "thickness": 1.4, "ticks": {"size": 10, "thickness": 1.4, "color": "black"}},
   "encoding": {
    "x": {"field": "M2", "type": "quantitative", "scale": {"domain": [-150, 24000], "nice": false, "zero": false}, "axis": {"title": "M²", "values": [0,1000,2000,3000,4000,5000,6000,7000,8000,9000,10000,11000,12000,13000,14000,15000,16000,17000,18000,19000,20000,21000,22000,23000,24000], "format": "d", "labelExpr": "datum.value % 5000 === 0 && datum.value < 24000 ? datum.label : ''", "tickSize": {"condition": {"test": "datum.value % 5000 === 0", "value": 9}, "value": 7}, "labelPadding": 16, "titleY": 81, "titleBaseline": "middle"}},
    "y": {"field": "dd", "type": "quantitative", "scale": {"domain": [-0.75, 1], "nice": false, "zero": false}, "axis": {"title": "ΔF₂(M)", "values": [-0.7,-0.6,-0.5,-0.4,-0.3,-0.2,-0.1,0,0.1,0.2,0.3,0.4,0.5,0.6,0.7,0.8,0.9,1], "labelExpr": "abs(datum.value*2 - round(datum.value*2)) < 0.001 ? '' + datum.value : ''", "tickSize": {"condition": {"test": "abs(datum.value*2 - round(datum.value*2)) < 0.001", "value": 9}, "value": 5}, "labelPadding": 4, "titleX": -115, "titleY": 139, "titleAngle": -90, "titleAlign": "center", "titleBaseline": "middle"}},
    "yError": {"field": "e"}
   }},
  {"data": {"name": "pb"},
   "mark": {"type": "point", "filled": true, "shape": "circle", "size": 65, "color": "black", "opacity": 1},
   "encoding": {
    "x": {"field": "M2", "type": "quantitative", "scale": {"domain": [-150, 24000], "nice": false, "zero": false}, "axis": {"title": "M²", "values": [0,1000,2000,3000,4000,5000,6000,7000,8000,9000,10000,11000,12000,13000,14000,15000,16000,17000,18000,19000,20000,21000,22000,23000,24000], "format": "d", "labelExpr": "datum.value % 5000 === 0 && datum.value < 24000 ? datum.label : ''", "tickSize": {"condition": {"test": "datum.value % 5000 === 0", "value": 9}, "value": 7}, "labelPadding": 16, "titleY": 81, "titleBaseline": "middle"}},
    "y": {"field": "dd", "type": "quantitative", "scale": {"domain": [-0.75, 1], "nice": false, "zero": false}, "axis": {"title": "ΔF₂(M)", "values": [-0.7,-0.6,-0.5,-0.4,-0.3,-0.2,-0.1,0,0.1,0.2,0.3,0.4,0.5,0.6,0.7,0.8,0.9,1], "labelExpr": "abs(datum.value*2 - round(datum.value*2)) < 0.001 ? '' + datum.value : ''", "tickSize": {"condition": {"test": "abs(datum.value*2 - round(datum.value*2)) < 0.001", "value": 9}, "value": 5}, "labelPadding": 4, "titleX": -115, "titleY": 139, "titleAngle": -90, "titleAlign": "center", "titleBaseline": "middle"}}
   }},
  {"data": {"values": []},
   "mark": {"type": "point", "filled": true, "size": 400, "opacity": 1},
   "encoding": {
    "shape": {"datum": "data", "scale": {"domain": ["data"], "range": ["M-4,0H4M-4,-0.45V0.45M4,-0.45V0.45M-0.45,0A0.45,0.45,0,1,1,0.45,0A0.45,0.45,0,1,1,-0.45,0Z"]}, "legend": {"legendX": 350, "legendY": 248}},
    "color": {"datum": "data", "scale": {"domain": ["data"], "range": ["black"]}, "legend": {"legendX": 350, "legendY": 248}},
    "stroke": {"datum": "data", "scale": {"domain": ["data"], "range": ["black"]}, "legend": {"legendX": 350, "legendY": 248}}
   }}
 ]
}
],
"columns": 2,
"spacing": {"row": 168, "column": 213},
"bounds": "flush",
"resolve": {"scale": {"shape": "independent", "color": "independent", "stroke": "independent"}, "legend": {"shape": "independent", "color": "independent", "stroke": "independent"}}
}
